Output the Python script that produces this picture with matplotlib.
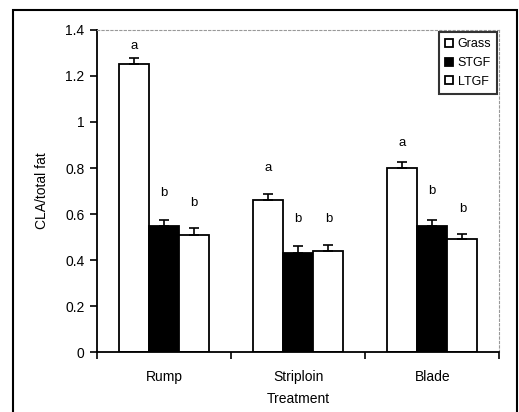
import numpy as np
from matplotlib import pyplot as plt, patches

plt.rcParams['font.family'] = ['Liberation Sans', 'DejaVu Sans']

# Data setup
treatments = ['Rump', 'Striploin', 'Blade']
series = ['Grass', 'STGF', 'LTGF']
values = {
    'Grass': [1.25, 0.66, 0.80],
    'STGF': [0.55, 0.43, 0.55],
    'LTGF': [0.51, 0.44, 0.49],
}
errors = {
    'Grass': [0.03, 0.025, 0.025],
    'STGF': [0.025, 0.03, 0.025],
    'LTGF': [0.03, 0.025, 0.025],
}
letters = {
    'Grass': ['a', 'a', 'a'],
    'STGF': ['b', 'b', 'b'],
    'LTGF': ['b', 'b', 'b'],
}
letter_heights = {
    'Grass': [1.33, 0.80, 0.91],
    'STGF': [0.69, 0.58, 0.70],
    'LTGF': [0.65, 0.58, 0.62],
}
colors = {'Grass': 'white', 'STGF': 'black', 'LTGF': 'white'}

# Plot formatting
fig = plt.figure(figsize=(5.19, 4.12), dpi=100)
ax = fig.add_axes([0.187, 0.1456, 0.775, 0.7816])

fig.patches.append(patches.Rectangle((13 / 519, -0.02), 504 / 519, 0.996,
                                     transform=fig.transFigure, fill=False,
                                     edgecolor='black', linewidth=1.5))

x = np.arange(len(treatments))
width = 0.225

for i, name in enumerate(series):
    pos = x + (i - 1) * width
    ax.bar(pos, values[name], width, color=colors[name], edgecolor='black',
           linewidth=1.3, label=name, zorder=2)
    ax.errorbar(pos, values[name], yerr=[np.zeros(len(pos)), errors[name]],
                fmt='none', ecolor='black', elinewidth=1.2, capsize=3.5,
                capthick=1.2, zorder=3)
    for p, h, t in zip(pos, letter_heights[name], letters[name]):
        ax.text(p, h, t, ha='center', va='center', fontsize=9.5)

ax.set_xlim(-0.5, 2.5)
ax.set_ylim(0, 1.4)
ax.set_yticks(np.arange(0, 1.41, 0.2))
ax.set_yticklabels(['0', '0.2', '0.4', '0.6', '0.8', '1', '1.2', '1.4'])
ax.set_xticks(np.arange(-0.5, 2.6, 1))
ax.set_xticklabels([])
ax.set_xticks(x, minor=True)
ax.set_xticklabels(treatments, minor=True)
ax.tick_params(axis='x', which='minor', length=0, pad=13, labelsize=10)
ax.tick_params(axis='x', which='major', length=5, width=1.2)
ax.tick_params(axis='y', length=5, width=1.2, labelsize=10, pad=4)

ax.set_xlabel('Treatment', fontsize=10, labelpad=6)
ax.set_ylabel('CLA/total fat', fontsize=10, labelpad=12)

for side in ['left', 'bottom']:
    ax.spines[side].set_linewidth(1.3)
for side in ['top', 'right']:
    ax.spines[side].set_linestyle((0, (2, 2)))
    ax.spines[side].set_color('#999999')
    ax.spines[side].set_linewidth(0.8)

legend = ax.legend(loc='upper right', fontsize=9, frameon=True, fancybox=False,
                   edgecolor='black', handlelength=0.6, handleheight=0.6,
                   handletextpad=0.4, borderaxespad=0.15, labelspacing=0.55,
                   borderpad=0.5)
legend.get_frame().set_linewidth(1.5)

fig.savefig('out.png', dpi=100)
